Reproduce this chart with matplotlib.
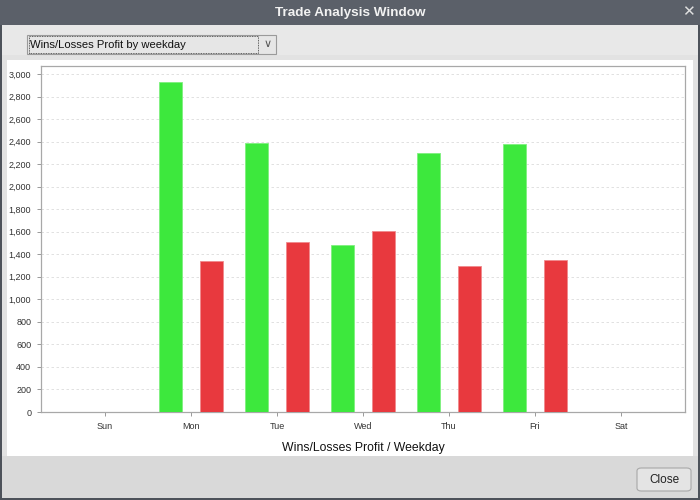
import matplotlib
matplotlib.use("Agg")
import matplotlib.pyplot as plt
import matplotlib.patches as mpatches
import numpy as np

# data
days = ["Sun", "Mon", "Tue", "Wed", "Thu", "Fri", "Sat"]
wins = [0, 2925, 2385, 1480, 2295, 2375, 0]
losses = [0, 1340, 1505, 1610, 1295, 1345, 0]
yticks = list(range(0, 3001, 200))

plt.rcParams["font.family"] = ["Liberation Sans", "DejaVu Sans"]

W, H = 700, 500
fig = plt.figure(figsize=(7, 5), dpi=100)
fig.patch.set_facecolor("#4d525a")


def box(x, y, w, h, **kw):
    # pixel coords from top-left
    p = mpatches.Rectangle((x / W, 1 - (y + h) / H), w / W, h / H,
                           transform=fig.transFigure, zorder=-5, **kw)
    fig.add_artist(p)
    return p


def fbox(x, y, w, h, **kw):
    p = mpatches.FancyBboxPatch((x / W, 1 - (y + h) / H), w / W, h / H,
                                boxstyle="round,pad=0,rounding_size=0.006",
                                transform=fig.transFigure, zorder=-5, **kw)
    fig.add_artist(p)
    return p


# window chrome
box(0, 0, W, 25, fc="#5b6069", ec="none")
box(2, 25, W - 4, H - 27, fc="#e2e2e2", ec="none")
box(2, 25, W - 4, 30, fc="#e8e8e8", ec="none")
box(2, 456, W - 4, 42, fc="#d9d9d9", ec="none")
fig.text(350 / W, 1 - 13 / H, "Trade Analysis Window", ha="center", va="center",
         color="#f2f2f2", fontsize=9.7, fontweight="bold")
fig.text(688 / W, 1 - 12 / H, "\u2715", ha="center", va="center",
         color="#e0e0e0", fontsize=11, fontweight="bold",
         family=["DejaVu Sans"])

# dropdown
box(27, 35, 249, 19, fc="#e6e6e6", ec="#9a9a9a", lw=0.8)
box(28.5, 36.5, 229, 16, fc="none", ec="#333333", lw=0.6, ls=(0, (1, 1)))
fig.text(30 / W, 1 - 44.5 / H, "Wins/Losses Profit by weekday", ha="left", va="center",
         color="#111111", fontsize=8.1)
fig.text(268 / W, 1 - 44 / H, "\u2228", ha="center", va="center",
         color="#555555", fontsize=8, family=["DejaVu Sans"])

# white chart panel
box(7, 60, 686, 396, fc="white", ec="none")

# close button
fbox(637, 468, 54, 23, fc="#e4e4e4", ec="#a8a8a8", lw=0.8)
fig.text(664 / W, 1 - 480 / H, "Close", ha="center", va="center",
         color="#222222", fontsize=8.5)

# plot
ax = fig.add_axes([41 / W, 1 - 412 / H, 644 / W, 346 / H])
ax.set_zorder(5)
x = np.arange(len(days))
off, bw = 0.238, 0.27
ax.bar(x - off, wins, bw, color="#3de83d", edgecolor="#7ef07e", lw=0.6, zorder=3)
ax.bar(x + off, losses, bw, color="#e8393e", edgecolor="#f08a8d", lw=0.6, zorder=3)

ax.set_xlim(-0.745, 6.745)
ax.set_ylim(0, 3071)
ax.set_xticks(x)
ax.set_xticklabels(days)
ax.set_yticks(yticks)
ax.set_yticklabels([f"{v:,}" for v in yticks])
ax.tick_params(labelsize=6.5, colors="#333333", length=3, width=0.7,
               pad=4)
ax.tick_params(axis="both", color="#999999")
ax.grid(axis="y", color="#dcdcdc", ls=(0, (3, 3)), lw=0.6, zorder=0)
for s in ax.spines.values():
    s.set_color("#a8a8a8")
    s.set_linewidth(0.9)
ax.set_xlabel("Wins/Losses Profit / Weekday", fontsize=8.8, color="#111111", labelpad=8)

fig.savefig("out.png", dpi=100, facecolor=fig.get_facecolor())
